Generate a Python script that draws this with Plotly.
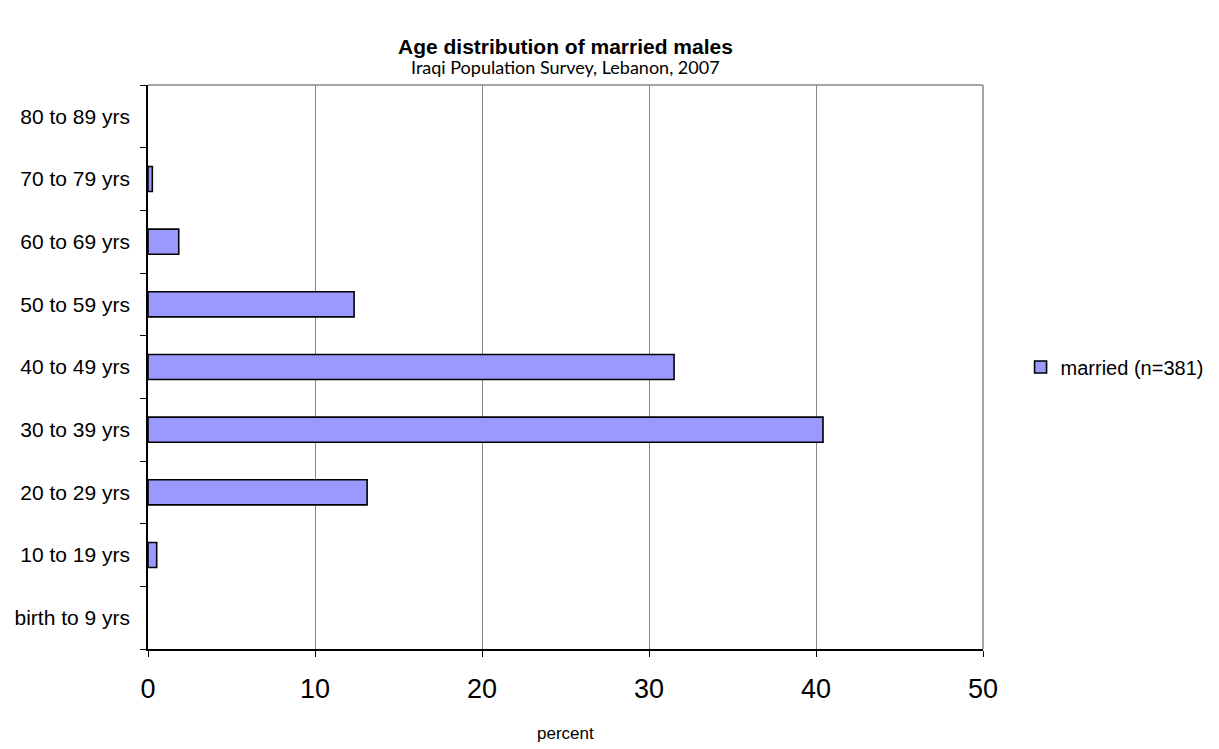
import plotly.graph_objects as go

# Age groups (bottom to top) and share of married males in each, percent
age_groups = ["birth to 9 yrs", "10 to 19 yrs", "20 to 29 yrs", "30 to 39 yrs",
              "40 to 49 yrs", "50 to 59 yrs", "60 to 69 yrs", "70 to 79 yrs",
              "80 to 89 yrs"]
married_pct = [0.0, 0.52, 13.12, 40.42, 31.50, 12.34, 1.84, 0.26, 0.0]
series_name = "married (n=381)"

x_ticks = [0, 10, 20, 30, 40, 50]

# empty groups are left blank so no outline stub shows on the axis
bar_values = [v if v > 0 else None for v in married_pct]

fig = go.Figure()
fig.add_trace(go.Bar(
    x=bar_values,
    y=age_groups,
    orientation="h",
    name=series_name,
    marker=dict(color="#9999FF", line=dict(color="#000000", width=1.6)),
    showlegend=True,
))

fig.update_layout(
    width=1219,
    height=749,
    paper_bgcolor="white",
    plot_bgcolor="white",
    margin=dict(l=148, r=236, t=85, b=100, autoexpand=False),
    bargap=0.6,
    font=dict(family="Liberation Sans, Arial, sans-serif", color="#000000"),
    showlegend=True,
    legend=dict(
        x=1.045, y=0.5, xanchor="left", yanchor="middle",
        font=dict(size=20),
        bgcolor="rgba(0,0,0,0)",
        itemwidth=30,
    ),
    xaxis=dict(
        range=[0, 50],
        tickvals=x_ticks,
        showgrid=True,
        gridcolor="#888888",
        gridwidth=1,
        showline=True,
        linecolor="#000000",
        linewidth=1.5,
        ticks="outside",
        ticklen=6,
        tickcolor="#000000",
        tickfont=dict(size=27),
        ticklabelstandoff=9,
        zeroline=False,
    ),
    yaxis=dict(
        categoryorder="array",
        categoryarray=age_groups,
        showgrid=False,
        showline=True,
        linecolor="#000000",
        linewidth=1.5,
        ticks="outside",
        tickson="boundaries",
        ticklen=6,
        tickcolor="#000000",
        tickfont=dict(size=21),
        ticklabelstandoff=12,
    ),
    annotations=[
        dict(text="<b>Age distribution of married males</b>", x=0.5, y=1.068,
             xref="paper", yref="paper", xanchor="center", yanchor="middle",
             showarrow=False, font=dict(size=21)),
        dict(text="Iraqi Population Survey, Lebanon, 2007", x=0.5, y=1.0320,
             xref="paper", yref="paper", xanchor="center", yanchor="middle",
             showarrow=False,
             font=dict(size=18, family="Lato, Open Sans, sans-serif")),
        dict(text="percent", x=0.5, y=0, xref="paper", yref="paper",
             xanchor="center", yanchor="middle", yshift=-84, showarrow=False,
             font=dict(size=17)),
    ],
    shapes=[
        # frame: top and right edges of the plot area
        dict(type="line", xref="paper", yref="paper", x0=0, x1=1, y0=1, y1=1,
             line=dict(color="#888888", width=1.5)),
        dict(type="line", xref="paper", yref="paper", x0=1, x1=1, y0=0, y1=1,
             line=dict(color="#888888", width=1.5)),
    ],
)

fig.write_html("out.html")
